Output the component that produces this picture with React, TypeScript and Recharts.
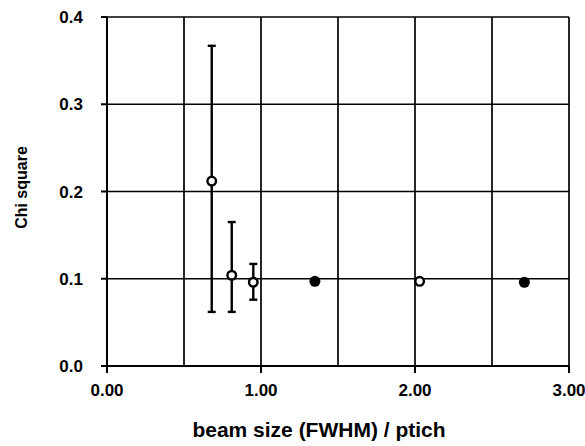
import { ScatterChart, Scatter, XAxis, YAxis, CartesianGrid, ErrorBar } from 'recharts'

// values
const beamSize = [0.68, 0.81, 0.95, 1.35, 2.03, 2.71]
const chiSquare = [0.212, 0.104, 0.096, 0.097, 0.097, 0.096]
const errLow = [0.062, 0.062, 0.076, null, null, null]
const errHigh = [0.367, 0.165, 0.117, null, null, null]
const solidMarker = [false, false, false, true, false, true]
const xTicks = [0, 0.5, 1, 1.5, 2, 2.5, 3]
const yTicks = [0, 0.1, 0.2, 0.3, 0.4]

const points = beamSize.map((x, i) => ({
  x,
  y: chiSquare[i],
  solid: solidMarker[i],
  err: errLow[i] != null ? [chiSquare[i] - (errLow[i] as number), (errHigh[i] as number) - chiSquare[i]] : null,
}))
const withErr = points.filter((p) => p.err)
const noErr = points.filter((p) => !p.err)

const font = '"Liberation Sans", Arial, sans-serif'

function Marker(props: any) {
  const { cx, cy, payload } = props
  if (payload.solid) return <circle cx={cx} cy={cy} r={5.5} fill="#000" />
  return <circle cx={cx} cy={cy} r={4.3} fill="#fff" stroke="#000" strokeWidth={2.4} />
}

function XTick(props: any) {
  const { x, y, payload } = props
  const v = payload.value
  if (Math.abs(v - Math.round(v)) > 1e-6) return null
  return (
    <g>
      <line x1={x} x2={x} y1={y} y2={y + 7} stroke="#000" strokeWidth={2} />
      <text x={x} y={y + 30} textAnchor="middle" fontFamily={font} fontWeight="bold" fontSize={17} fill="#000">
        {v.toFixed(2)}
      </text>
    </g>
  )
}

function YTick(props: any) {
  const { x, y, payload } = props
  return (
    <g>
      <line x1={x - 6} x2={x} y1={y} y2={y} stroke="#000" strokeWidth={2} />
      <text x={x - 24} y={y} dy="0.36em" textAnchor="end" fontFamily={font} fontWeight="bold" fontSize={17} fill="#000">
        {payload.value.toFixed(1)}
      </text>
    </g>
  )
}

function YTitle(props: any) {
  const { viewBox } = props
  const cx = viewBox.x + 21
  const cy = viewBox.y + viewBox.height / 2 - 4
  return (
    <text x={cx} y={cy} transform={`rotate(-90 ${cx} ${cy})`} textAnchor="middle" dominantBaseline="central"
      fontFamily={font} fontWeight="bold" fontSize={16} fill="#000">
      Chi square
    </text>
  )
}

function XTitle(props: any) {
  const { viewBox } = props
  return (
    <text x={viewBox.x + viewBox.width / 2 - 19} y={viewBox.y + 71} textAnchor="middle"
      fontFamily={font} fontWeight="bold" fontSize={21} fill="#000">
      beam size (FWHM) / ptich
    </text>
  )
}

export default function App() {
  return (
    <div style={{ position: 'absolute', left: 0, top: 0, background: '#fff' }}>
      <ScatterChart width={585} height={446} margin={{ top: 17, right: 16, left: 0, bottom: 0 }}>
        <CartesianGrid stroke="#000" strokeWidth={1.7} />
        <XAxis
          type="number"
          dataKey="x"
          domain={[0, 3]}
          ticks={xTicks}
          height={80}
          tickSize={0}
          tickMargin={0}
          tickLine={false}
          axisLine={{ stroke: '#000', strokeWidth: 2 }}
          tick={<XTick />}
          interval={0}
          label={<XTitle />}
        />
        <YAxis
          type="number"
          dataKey="y"
          domain={[0, 0.4]}
          ticks={yTicks}
          width={107}
          tickSize={0}
          tickMargin={0}
          tickLine={false}
          axisLine={{ stroke: '#000', strokeWidth: 2 }}
          tick={<YTick />}
          interval={0}
          label={<YTitle />}
        />
        <Scatter data={withErr} shape={<Marker />} isAnimationActive={false}>
          <ErrorBar dataKey="err" direction="y" width={4} stroke="#000" strokeWidth={2.4} isAnimationActive={false} />
        </Scatter>
        <Scatter data={noErr} shape={<Marker />} isAnimationActive={false} />
      </ScatterChart>
    </div>
  )
}
